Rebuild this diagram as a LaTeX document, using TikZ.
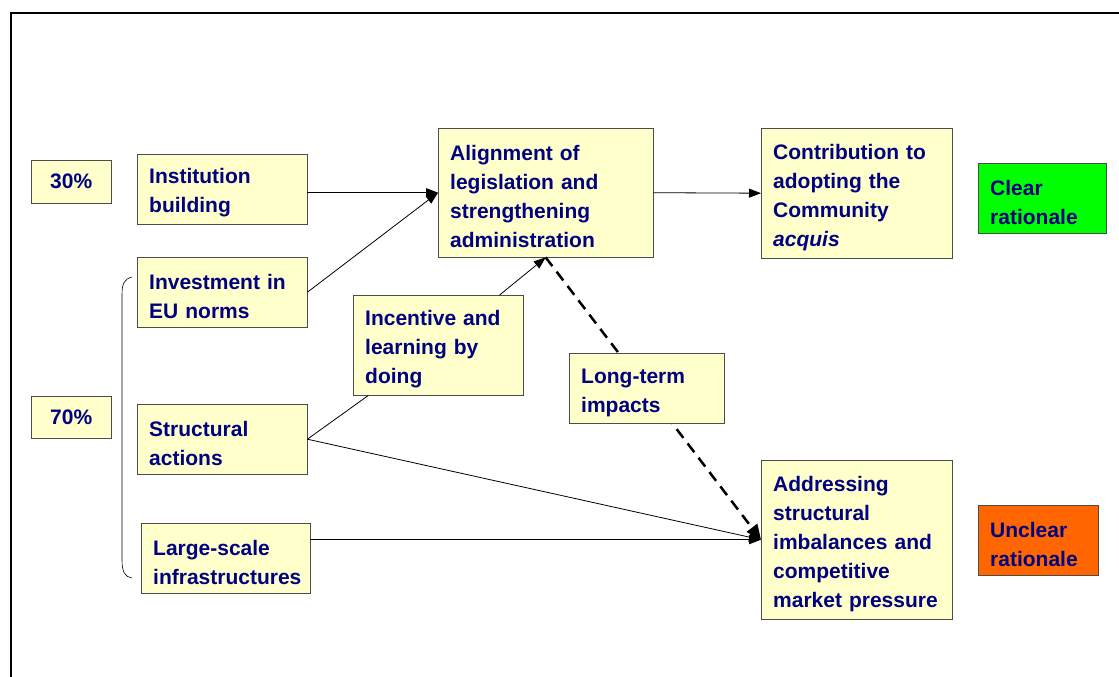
\documentclass[tikz,border=0pt]{standalone}
\usepackage{fontspec}
\setmainfont{Liberation Sans}
\usetikzlibrary{arrows.meta}
\definecolor{boxfill}{RGB}{255,255,204}
\definecolor{navytext}{RGB}{0,0,128}
\definecolor{cleargreen}{RGB}{0,255,0}
\definecolor{unclearorange}{RGB}{255,102,0}
\hyphenpenalty=10000
\tikzset{
  card/.style={draw=black!70, fill=boxfill, text=navytext, anchor=north west,
    font=\fontsize{21}{29}\selectfont\bfseries, inner xsep=12pt, inner ysep=0pt},
  box/.style={card, align=left, execute at begin node={\rule{0pt}{23pt}}},
  pct/.style={card, align=center},
  link/.style={line width=0.8pt, -{Triangle[length=12pt,width=9pt]}},
  longterm/.style={line width=2.5pt, dash pattern=on 11pt off 7pt, -{Triangle[length=15pt,width=13pt]}}
}
\begin{document}
\begin{tikzpicture}[x=1pt,y=-1pt]
\useasboundingbox (0,0) rectangle (1119,677);
\draw[line width=2pt] (11,677) -- (11,13) -- (1119,13);

\node[pct, text width=56pt, minimum height=43pt] (p30) at (31,160) {30\%};
\node[pct, text width=56pt, minimum height=42pt] (p70) at (31,396) {70\%};
\node[box, text width=146pt, minimum height=70pt] (inst) at (137,154) {Institution\\building};
\node[box, text width=146pt, minimum height=70pt] (inv) at (137,257) {Investment in\\EU norms};
\node[box, text width=146pt, minimum height=70pt] (struct) at (137,404) {Structural\\actions};
\node[box, text width=145pt, minimum height=70pt] (large) at (141,523) {Large-scale\\infrastructures};
\node[box, text width=191pt, minimum height=129pt] (align) at (438,128) {Alignment of\\legislation and\\strengthening\\administration};
\node[box, text width=146pt, minimum height=100pt] (inc) at (353,295) {Incentive and\\learning by\\doing};
\node[box, text width=167pt, minimum height=130pt] (contrib) at (761,128) {Contribution to\\adopting the\\Community\\\textit{acquis}};
\node[box, text width=167pt, minimum height=159pt] (addr) at (761,460) {Addressing\\structural\\imbalances and\\competitive\\market pressure};
\node[box, fill=cleargreen, text width=104pt, minimum height=70pt] (clear) at (978,163) {Clear\\rationale};
\node[box, fill=unclearorange, text width=96pt, minimum height=70pt] (unclear) at (978,505) {Unclear\\rationale};

% brace grouping the 70% instruments
\draw[line width=0.6pt] (132,277) .. controls (124,279) and (122,284) .. (122,295) -- (122,560) .. controls (122,572) and (125,577) .. (132,578);

\path[draw,link] (inst.east |- align.west) -- (align.west);
\path[draw,link] (inv.east) -- (align.west);
\path[draw,link] (align.east) -- (contrib.west);
\path[draw,link] (inc) -- (align.south);
\path[draw,line width=0.8pt] (struct.east) -- (inc);
\path[draw,link] (struct.east) -- (addr.west);
\path[draw,link] (large.east |- addr.west) -- (addr.west);
\path[draw,longterm] (align.south) -- (addr.west);

\node[box, text width=131pt, minimum height=70pt] (long) at (569,353) {Long-term\\impacts};
\end{tikzpicture}
\end{document}
